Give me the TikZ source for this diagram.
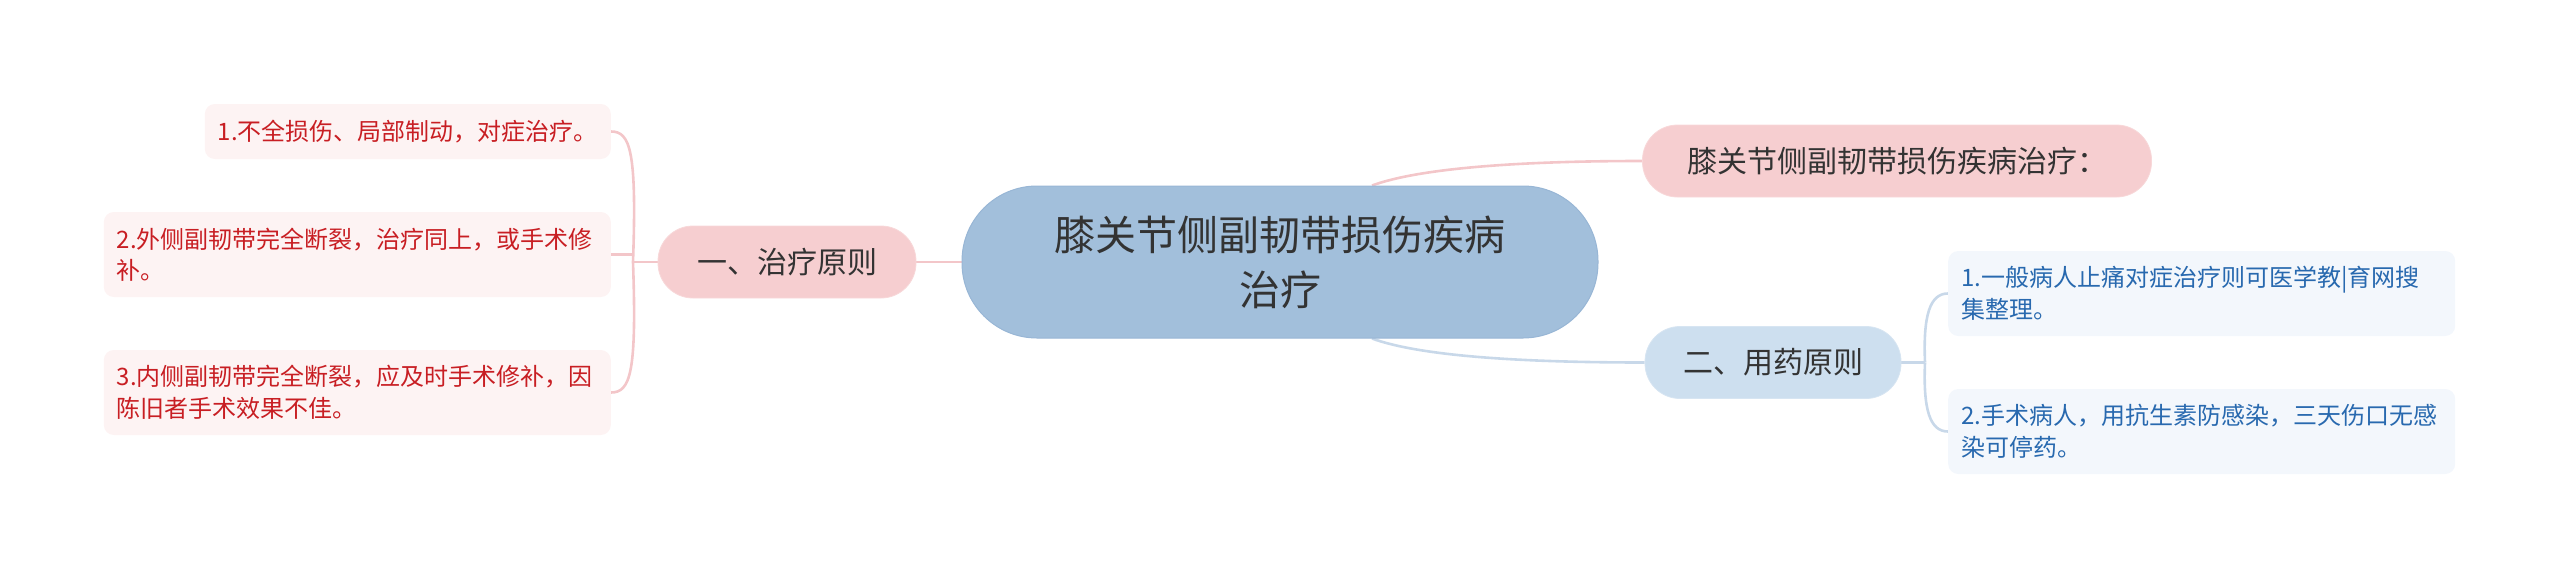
\documentclass[tikz,border=0pt]{standalone}
\usepackage{fontspec}
\setmainfont{Noto Sans CJK SC}
\usepackage{tikz}
\usetikzlibrary{calc,               % Calculs de coordonnées entre $ $
           positioning}
\pgfdeclarelayer{background}
\pgfsetlayers{background,main}
\definecolor{bra}{RGB}{162,191,219}
\definecolor{brabord}{RGB}{152,182,213}
\definecolor{ro}{RGB}{246,206,208}
\definecolor{bl}{RGB}{205,223,239}
\definecolor{feuro}{RGB}{253,243,243}
\definecolor{feubl}{RGB}{243,247,252}
\definecolor{txtro}{RGB}{200,30,35}
\definecolor{txtbl}{RGB}{40,105,175}
\definecolor{lienro}{RGB}{243,198,201}
\definecolor{lienbl}{RGB}{200,216,233}
\definecolor{gris}{RGB}{51,51,51}
\tikzset{
  centre/.style={fill=bra, draw=brabord, line width=1pt, rounded corners=75pt,
                 minimum width=636pt, minimum height=152pt, align=center, text=gris,
                 font=\fontsize{41}{55}\selectfont},
  rose/.style={fill=ro, draw=ro!80!white, line width=0.8pt, rounded corners=35pt,
               minimum height=72pt, text=gris, font=\fontsize{30}{36}\selectfont},
  bleu/.style={fill=bl, draw=bl!80!white, line width=0.8pt, rounded corners=35pt,
               minimum height=72pt, text=gris, font=\fontsize{30}{36}\selectfont},
  feuille/.style={rounded corners=10pt, inner xsep=13pt, inner ysep=4pt,
                  text width=481pt, minimum height=85pt, align=left,
                  font=\fontsize{24}{31.5}\selectfont},
  feuilleR/.style={feuille, fill=feuro, text=txtro},
  feuilleB/.style={feuille, fill=feubl, text=txtbl},
  lienR/.style={draw=lienro, line width=2.6pt},
  lienB/.style={draw=lienbl, line width=2.6pt}
}
\begin{document}
\begin{tikzpicture}[x=1pt,y=-1pt]
\useasboundingbox (0,0) rectangle (2560,579);
\node[centre](root) at (1280,262) {膝关节侧副韧带损伤疾病\\治疗};
\node[rose, minimum width=509pt](head) at (1897,161) {膝关节侧副韧带损伤疾病治疗：};
\node[bleu, minimum width=256pt](drug) at (1773,362.5) {二、用药原则};
\node[rose, minimum width=258pt](treat) at (787,262) {一、治疗原则};
\node[feuilleR, text width=380pt, minimum height=55pt, anchor=east](t1) at (611,131.5) {1.不全损伤、局部制动，对症治疗。};
\node[feuilleR, anchor=east](t2) at (611,254.5) {2.外侧副韧带完全断裂，治疗同上，或手术修\\补。};
\node[feuilleR, anchor=east](t3) at (611,392.5) {3.内侧副韧带完全断裂，应及时手术修补，因\\陈旧者手术效果不佳。};
\node[feuilleB, anchor=west](d1) at (1948,293.5) {1.一般病人止痛对症治疗则可医学教|育网搜\\集整理。};
\node[feuilleB, anchor=west](d2) at (1948,431.5) {2.手术病人，用抗生素防感染，三天伤口无感\\染可停药。};
\coordinate (hubT) at (633,262);
\coordinate (hubD) at (1925,362.5);
\begin{pgfonlayer}{background}
\draw[lienR]($(root.north)+(92,0)$) .. controls (1420,168) and (1520,161) .. (head.west);
\draw[lienB]($(root.south)+(92,0)$) .. controls (1420,356) and (1520,362.5) .. (drug.west);
\draw[lienR](treat.east) -- (root.west);
\draw[lienR](treat.west) -- (hubT);
\draw[lienR](hubT) .. controls (637,150) and (630,131.5) .. (t1.east);
\draw[lienR](hubT) .. controls (637,374) and (630,392.5) .. (t3.east);
\draw[lienR](t2.east) -- (t2.east -| hubT);
\draw[lienB](drug.east) -- (hubD);
\draw[lienB](hubD) .. controls (1923,315) and (1930,293.5) .. (d1.west);
\draw[lienB](hubD) .. controls (1923,410) and (1930,431.5) .. (d2.west);
\end{pgfonlayer}
\end{tikzpicture}
\end{document}
